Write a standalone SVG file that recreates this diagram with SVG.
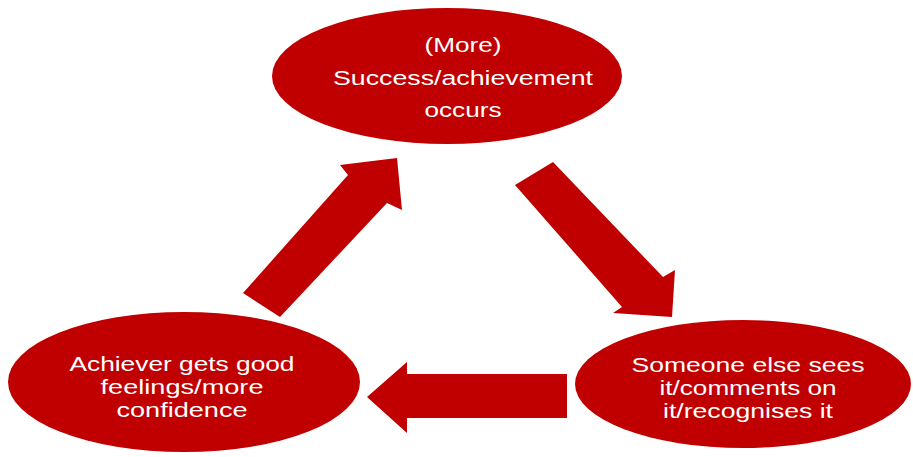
<svg xmlns="http://www.w3.org/2000/svg" width="913" height="457" viewBox="0 0 913 457">
<style>
.node{fill:#c00000;}
.lbl{fill:#ffffff;font-family:"Liberation Sans",Arial,sans-serif;font-size:20px;text-anchor:middle;}
.arrow{fill:#c00000;}
</style>
<rect width="913" height="457" fill="#ffffff"/>
<g id="connectors">
<polygon class="arrow" points="243,293 348,175 340,165 397,158 402,210 387,203 280,317"/>
<polygon class="arrow" points="515,185 553,162 663,277 675,270 672,317 613,313 622,307"/>
<polygon class="arrow" points="367,397 407,362 407,374 567,374 567,418 407,418 407,433"/>
</g>
<g id="node-success">
<ellipse class="node" cx="447" cy="76" rx="175" ry="68"/>
<text class="lbl" x="463" y="52" textLength="77" lengthAdjust="spacingAndGlyphs">(More)</text>
<text class="lbl" x="463" y="85" textLength="260" lengthAdjust="spacingAndGlyphs">Success/achievement</text>
<text class="lbl" x="463" y="117" textLength="77" lengthAdjust="spacingAndGlyphs">occurs</text>
</g>
<g id="node-achiever">
<ellipse class="node" cx="184" cy="382" rx="176" ry="70"/>
<text class="lbl" x="182" y="371" textLength="225" lengthAdjust="spacingAndGlyphs">Achiever gets good</text>
<text class="lbl" x="182" y="394" textLength="163" lengthAdjust="spacingAndGlyphs">feelings/more</text>
<text class="lbl" x="182" y="417" textLength="131" lengthAdjust="spacingAndGlyphs">confidence</text>
</g>
<g id="node-someone">
<ellipse class="node" cx="743" cy="384" rx="168" ry="64"/>
<text class="lbl" x="748" y="372" textLength="233" lengthAdjust="spacingAndGlyphs">Someone else sees</text>
<text class="lbl" x="748" y="395" textLength="177" lengthAdjust="spacingAndGlyphs">it/comments on</text>
<text class="lbl" x="748" y="418" textLength="170" lengthAdjust="spacingAndGlyphs">it/recognises it</text>
</g>
</svg>
